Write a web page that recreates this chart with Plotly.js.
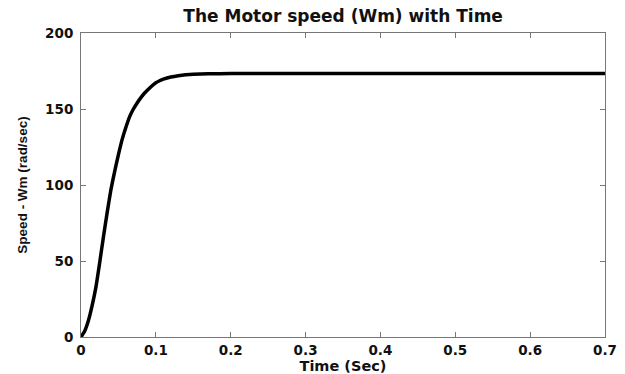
<!DOCTYPE html>
<html>
<head>
<meta charset="utf-8">
<script src="https://cdn.plot.ly/plotly-3.0.1.min.js"></script>
<style>html,body{margin:0;padding:0;background:#fff;}#chart{width:625px;height:374px;}</style>
</head>
<body>
<div id="chart"></div>
<script>
const time = [0, 0.005, 0.01, 0.015, 0.02, 0.025, 0.03, 0.035, 0.04, 0.045, 0.05, 0.055, 0.06, 0.065, 0.07, 0.075, 0.08, 0.085, 0.09, 0.095, 0.1, 0.105, 0.11, 0.12, 0.13, 0.14, 0.15, 0.17, 0.2, 0.3, 0.4, 0.5, 0.6, 0.7];
const speed = [0, 4, 11, 21, 33, 49, 66, 82, 97, 109, 120, 130, 138, 145, 150, 154, 157.5, 160.5, 163, 165.3, 167.3, 168.6, 169.6, 171, 171.9, 172.5, 172.9, 173.2, 173.3, 173.3, 173.3, 173.3, 173.3, 173.3];
const xTicks = [0, 0.1, 0.2, 0.3, 0.4, 0.5, 0.6, 0.7];
const yTicks = [0, 50, 100, 150, 200];

const wide = "DejaVu Sans, Verdana, sans-serif";
const narrow = "Liberation Sans, Arial, sans-serif";
const axisCommon = {
  showline: true, linecolor: '#777', linewidth: 1, mirror: 'ticks',
  ticks: 'inside', ticklen: 5, tickcolor: '#777', tickwidth: 1,
  showgrid: false, zeroline: false,
  tickfont: {family: wide, size: 13.5, color: '#111', weight: 'bold'}
};
Plotly.newPlot('chart', [{
  x: time, y: speed, type: 'scatter', mode: 'lines',
  line: {color: '#000', width: 3.5, shape: 'spline', smoothing: 0.4},
  hoverinfo: 'skip'
}], {
  width: 625, height: 374,
  margin: {l: 81, r: 20, t: 33, b: 37},
  paper_bgcolor: '#fff', plot_bgcolor: '#fff',
  showlegend: false,
  title: {text: 'The Motor speed (Wm) with Time', font: {family: wide, size: 17, color: '#111', weight: 'bold'}, x: 0.549, xanchor: 'center', y: 0.958, yanchor: 'middle'},
  xaxis: Object.assign({}, axisCommon, {
    range: [0, 0.7], tickvals: xTicks, ticktext: xTicks.map(String),
    ticklabelstandoff: 1,
    title: {text: 'Time (Sec)', font: {family: wide, size: 14.5, color: '#111', weight: 'bold'}, standoff: 2}
  }),
  yaxis: Object.assign({}, axisCommon, {
    range: [0, 200], tickvals: yTicks, ticktext: yTicks.map(String),
    ticklabelstandoff: 4,
    title: {text: 'Speed - Wm (rad/sec)', font: {family: narrow, size: 13.5, color: '#111', weight: 'bold'}, standoff: 14}
  })
}, {staticPlot: true});
</script>
</body>
</html>
